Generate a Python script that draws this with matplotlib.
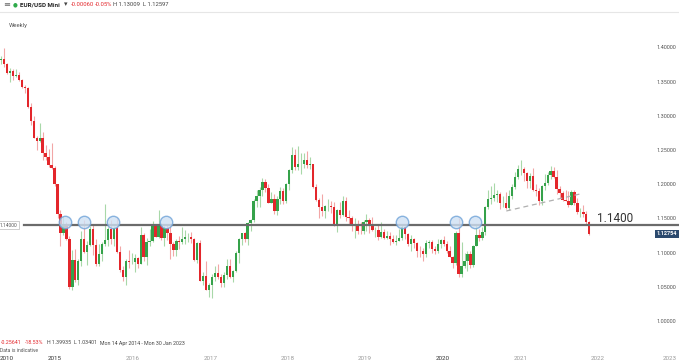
import matplotlib
matplotlib.use('Agg')
import matplotlib.pyplot as plt
import matplotlib.dates as mdates
import numpy as np
import pandas as pd

plt.rcParams['font.family'] = ['Roboto', 'DejaVu Sans']

# EUR/USD, two-week candles starting Mon 14 Apr 2014
first_open = 1.381
close = [1.383, 1.375, 1.363, 1.366, 1.358, 1.359, 1.352, 1.342, 1.340, 1.313,
         1.293, 1.268, 1.263, 1.267, 1.245, 1.239, 1.228, 1.223, 1.200, 1.157,
         1.129, 1.139, 1.120, 1.049, 1.089, 1.060, 1.087, 1.120, 1.101, 1.111,
         1.135, 1.111, 1.083, 1.098, 1.112, 1.118, 1.134, 1.120, 1.136, 1.101,
         1.074, 1.064, 1.088, 1.086, 1.086, 1.092, 1.083, 1.125, 1.093, 1.115,
         1.117, 1.140, 1.123, 1.140, 1.122, 1.136, 1.128, 1.113, 1.104, 1.117,
         1.116, 1.120, 1.123, 1.123, 1.120, 1.089, 1.114, 1.059, 1.066, 1.045,
         1.052, 1.064, 1.070, 1.064, 1.056, 1.067, 1.080, 1.064, 1.073, 1.100,
         1.120, 1.128, 1.120, 1.143, 1.147, 1.175, 1.182, 1.192, 1.203, 1.195,
         1.173, 1.178, 1.161, 1.179, 1.190, 1.175, 1.200, 1.220, 1.243, 1.225,
         1.229, 1.230, 1.235, 1.228, 1.229, 1.196, 1.177, 1.166, 1.161, 1.168,
         1.168, 1.166, 1.140, 1.162, 1.155, 1.175, 1.152, 1.151, 1.139, 1.141,
         1.132, 1.131, 1.144, 1.147, 1.141, 1.133, 1.133, 1.123, 1.130, 1.122,
         1.124, 1.120, 1.116, 1.117, 1.121, 1.137, 1.127, 1.113, 1.120, 1.114,
         1.103, 1.102, 1.098, 1.114, 1.116, 1.105, 1.102, 1.112, 1.118, 1.112,
         1.103, 1.094, 1.085, 1.129, 1.069, 1.081, 1.087, 1.098, 1.082, 1.110,
         1.126, 1.122, 1.130, 1.166, 1.179, 1.180, 1.184, 1.185, 1.172, 1.172,
         1.165, 1.183, 1.196, 1.211, 1.222, 1.222, 1.217, 1.204, 1.212, 1.191,
         1.190, 1.176, 1.198, 1.202, 1.214, 1.219, 1.211, 1.193, 1.187, 1.177,
         1.176, 1.170, 1.188, 1.173, 1.159, 1.160, 1.156, 1.144, 1.1275]
high = [1.388, 1.399, 1.377, 1.370, 1.369, 1.369, 1.364, 1.354, 1.345, 1.342,
        1.318, 1.299, 1.270, 1.289, 1.277, 1.258, 1.251, 1.260, 1.226, 1.200,
        1.162, 1.153, 1.145, 1.124, 1.104, 1.105, 1.091, 1.132, 1.147, 1.117,
        1.139, 1.140, 1.120, 1.112, 1.115, 1.171, 1.138, 1.147, 1.139, 1.150,
        1.110, 1.080, 1.090, 1.104, 1.100, 1.098, 1.094, 1.138, 1.129, 1.122,
        1.134, 1.146, 1.140, 1.162, 1.143, 1.139, 1.142, 1.142, 1.115, 1.120,
        1.124, 1.137, 1.133, 1.128, 1.130, 1.121, 1.116, 1.118, 1.071, 1.087,
        1.056, 1.068, 1.081, 1.083, 1.068, 1.071, 1.090, 1.091, 1.075, 1.102,
        1.122, 1.129, 1.130, 1.145, 1.149, 1.178, 1.191, 1.196, 1.209, 1.208,
        1.200, 1.189, 1.185, 1.182, 1.196, 1.194, 1.202, 1.222, 1.254, 1.251,
        1.256, 1.245, 1.245, 1.248, 1.240, 1.229, 1.200, 1.180, 1.185, 1.170,
        1.179, 1.175, 1.174, 1.164, 1.174, 1.182, 1.181, 1.162, 1.153, 1.150,
        1.147, 1.144, 1.148, 1.157, 1.150, 1.152, 1.137, 1.142, 1.145, 1.135,
        1.132, 1.130, 1.126, 1.125, 1.135, 1.141, 1.139, 1.129, 1.125, 1.122,
        1.116, 1.110, 1.106, 1.118, 1.118, 1.118, 1.109, 1.120, 1.120, 1.124,
        1.117, 1.110, 1.095, 1.131, 1.150, 1.115, 1.099, 1.102, 1.102, 1.111,
        1.142, 1.135, 1.137, 1.168, 1.191, 1.197, 1.201, 1.192, 1.188, 1.183,
        1.188, 1.192, 1.200, 1.218, 1.228, 1.235, 1.225, 1.218, 1.216, 1.224,
        1.200, 1.195, 1.199, 1.215, 1.218, 1.227, 1.225, 1.220, 1.197, 1.190,
        1.191, 1.190, 1.191, 1.191, 1.180, 1.165, 1.169, 1.161, 1.146]
low = [1.376, 1.372, 1.361, 1.350, 1.353, 1.356, 1.351, 1.340, 1.333, 1.312,
       1.286, 1.268, 1.250, 1.262, 1.236, 1.236, 1.225, 1.222, 1.198, 1.151,
       1.110, 1.126, 1.118, 1.047, 1.046, 1.057, 1.052, 1.081, 1.099, 1.082,
       1.110, 1.096, 1.081, 1.081, 1.087, 1.110, 1.109, 1.113, 1.110, 1.100,
       1.072, 1.059, 1.052, 1.077, 1.084, 1.071, 1.077, 1.083, 1.087, 1.082,
       1.110, 1.115, 1.123, 1.121, 1.119, 1.110, 1.119, 1.091, 1.095, 1.095,
       1.105, 1.113, 1.113, 1.115, 1.114, 1.088, 1.085, 1.058, 1.052, 1.045,
       1.035, 1.034, 1.058, 1.061, 1.049, 1.049, 1.062, 1.063, 1.057, 1.071,
       1.085, 1.111, 1.115, 1.111, 1.132, 1.145, 1.166, 1.166, 1.182, 1.189,
       1.172, 1.172, 1.157, 1.155, 1.171, 1.171, 1.173, 1.192, 1.216, 1.221,
       1.221, 1.215, 1.224, 1.224, 1.222, 1.195, 1.176, 1.151, 1.154, 1.151,
       1.161, 1.158, 1.139, 1.130, 1.150, 1.153, 1.146, 1.142, 1.132, 1.122,
       1.127, 1.127, 1.127, 1.131, 1.128, 1.131, 1.123, 1.118, 1.121, 1.120,
       1.120, 1.111, 1.114, 1.111, 1.117, 1.118, 1.120, 1.110, 1.103, 1.106,
       1.093, 1.093, 1.088, 1.094, 1.107, 1.100, 1.098, 1.100, 1.107, 1.109,
       1.100, 1.093, 1.078, 1.082, 1.065, 1.064, 1.077, 1.073, 1.077, 1.079,
       1.109, 1.117, 1.118, 1.126, 1.164, 1.171, 1.176, 1.174, 1.163, 1.166,
       1.163, 1.162, 1.178, 1.193, 1.208, 1.214, 1.205, 1.195, 1.195, 1.190,
       1.183, 1.170, 1.170, 1.191, 1.199, 1.207, 1.209, 1.185, 1.180, 1.176,
       1.175, 1.166, 1.169, 1.170, 1.156, 1.152, 1.152, 1.141, 1.126]

level = 1.14
last_price = 1.12754
touch_dates = ['2015-02-17', '2015-05-17', '2015-10-01', '2016-06-07',
               '2019-06-23', '2020-03-05', '2020-06-03']
trend_dates = ['2020-10-27', '2021-10-10']
trend_prices = [1.1608, 1.1857]
years = [2015, 2016, 2017, 2018, 2019, 2020, 2021, 2022]
price_ticks = [1.00, 1.05, 1.10, 1.15, 1.20, 1.25, 1.30, 1.35, 1.40]

green = '#35a24a'
red = '#e3262b'
green_wick = '#a8d8a8'
red_wick = '#f2a6a6'

W, H = 679, 361
fig = plt.figure(figsize=(W / 100, H / 100), dpi=100)
ax = fig.add_axes([0, (H - 338) / H, 640 / W, (338 - 14) / H])

dates = pd.date_range('2014-04-14', periods=len(close), freq='14D') + pd.Timedelta(days=7)
x = mdates.date2num(dates.to_pydatetime())
c = np.array(close)
o = np.r_[first_open, c[:-1]]
hi = np.array(high)
lo = np.array(low)
up = c >= o

ax.vlines(x[up], lo[up], hi[up], color=green_wick, lw=0.8, zorder=1)
ax.vlines(x[~up], lo[~up], hi[~up], color=red_wick, lw=0.8, zorder=1)
ax.bar(x[up], (c - o)[up], bottom=o[up], width=11, color=green, lw=0, zorder=2)
ax.bar(x[~up], (c - o)[~up], bottom=o[~up], width=11, color=red, lw=0, zorder=2)

# support / resistance level
ax.axhline(level, xmin=24 / 640, xmax=W / 640, color='#6b6b6b', lw=1.6,
           clip_on=False, zorder=3)
tx = mdates.date2num(pd.to_datetime(touch_dates).to_pydatetime())
ax.scatter(tx, [level + 0.0045] * len(tx), s=80, facecolor='#cfe0f3',
           edgecolor='#6fa3d8', lw=1.0, alpha=0.8, zorder=4)
trx = mdates.date2num(pd.to_datetime(trend_dates).to_pydatetime())
ax.plot(trx, trend_prices, ls=(0, (4, 3)), color='#b0b0b0', lw=0.9, zorder=3)

ax.set_xlim(mdates.date2num(pd.Timestamp('2014-04-16')),
            mdates.date2num(pd.Timestamp('2022-07-19')))
ax.set_ylim(0.9751, 1.4488)
ax.set_xticks([])
ax.yaxis.tick_right()
ax.set_yticks(price_ticks)
ax.set_yticklabels(['%.5f' % p for p in price_ticks])
ax.tick_params(axis='y', length=0, pad=12, labelsize=4, labelcolor='#555555')
for s in ax.spines.values():
    s.set_visible(False)

ax.text(633 / 640, level + 0.0105, '1.1400', transform=ax.get_yaxis_transform(),
        ha='right', va='center', fontsize=8.5, color='#333333', clip_on=False)
ax.text(0.0, level, '1.14000', transform=ax.get_yaxis_transform(), ha='left',
        va='center', fontsize=3.5, color='#555555',
        bbox=dict(boxstyle='square,pad=0.35', fc='white', ec='#bbbbbb', lw=0.5))
ax.text(657 / 640, last_price, '1.12754', transform=ax.get_yaxis_transform(),
        ha='left', va='center', fontsize=4, color='white', fontweight='bold',
        clip_on=False,
        bbox=dict(boxstyle='square,pad=0.3', fc='#2c4a6e', ec='none'))

# year labels along the bottom
for yr in years:
    xv = mdates.date2num(pd.Timestamp('%d-01-01' % yr))
    dark = yr in (2015, 2020)
    ax.text(xv, -0.062, str(yr), transform=ax.get_xaxis_transform(),
            ha='center', va='center', fontsize=4.5, clip_on=False,
            color='#333333' if dark else '#9a9a9a')
fig.text(7 / W, 1 - 358 / H, '2010', ha='center', va='center', fontsize=4.5,
         color='#333333')
fig.text(677 / W, 1 - 358 / H, '2023', ha='right', va='center', fontsize=4.5,
         color='#9a9a9a')

# header
fig.add_artist(plt.Line2D([0, 1], [1 - 12 / H, 1 - 12 / H], color='#e6e6e6', lw=0.8))
fig.text(3 / W, 1 - 5 / H, '≡', fontsize=6, color='#666666', va='center')
fig.text(15 / W, 1 - 5 / H, '●', fontsize=4, color='#2eaa4a', va='center', ha='center')
fig.text(20 / W, 1 - 5 / H, 'EUR/USD Mini', fontsize=4.5, color='#222222',
         va='center', fontweight='bold')
fig.text(64 / W, 1 - 5 / H, '▾', fontsize=5, color='#444444', va='center')
fig.text(71 / W, 1 - 5 / H, '-0.00060', fontsize=4.2, color='#e3262b', va='center')
fig.text(95 / W, 1 - 5 / H, '-0.05%', fontsize=4.2, color='#e3262b', va='center')
fig.text(113 / W, 1 - 5 / H, 'H 1.13009  L 1.12597', fontsize=4.2,
         color='#444444', va='center')
fig.text(9 / W, 1 - 26 / H, 'Weekly', fontsize=4.3, color='#555555', va='center')

# footer info
fig.text(1 / W, 1 - 343 / H, '-0.25641', fontsize=3.8, color='#e3262b', va='center')
fig.text(25 / W, 1 - 343 / H, '-18.53%', fontsize=3.8, color='#e3262b', va='center')
fig.text(47 / W, 1 - 343 / H, 'H 1.39935', fontsize=3.8, color='#444444', va='center')
fig.text(74 / W, 1 - 343 / H, 'L 1.03401', fontsize=3.8, color='#444444', va='center')
fig.text(100 / W, 1 - 343 / H, 'Mon 14 Apr 2014 - Mon 30 Jan 2023', fontsize=3.8,
         color='#444444', va='center')
fig.text(0, 1 - 351 / H, 'Data is indicative', fontsize=3.6, color='#555555',
         va='center')

fig.savefig('out.png', dpi=100)
